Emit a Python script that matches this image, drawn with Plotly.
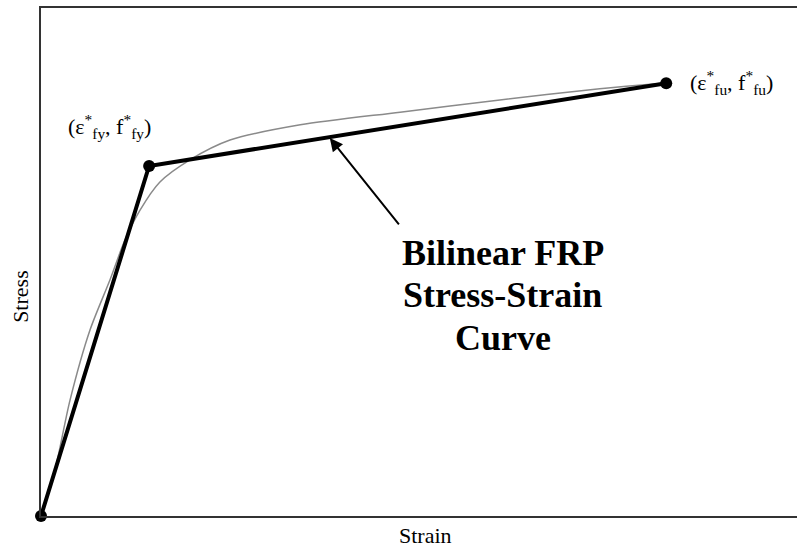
import plotly.graph_objects as go

# Data (normalized strain / stress units)
curve_strain = [0, 1.85, 3.84, 6.48, 9.13, 11.1, 13.1, 15.7, 19.7, 25.0, 34.3, 47.5, 60.7, 73.9, 80.6, 82.7]
curve_stress = [0, 9.06, 22.8, 36.6, 46.5, 54.3, 60.2, 65.7, 70.1, 74.0, 77.0, 79.5, 81.9, 84.1, 85.0, 85.2]

bilinear_strain = [0, 14.3, 82.7]
bilinear_stress = [0, 68.9, 85.2]

label_yield = "(ε<sup>*</sup><sub>fy</sub>, f<sup>*</sup><sub>fy</sub>)"
label_ult = "(ε<sup>*</sup><sub>fu</sub>, f<sup>*</sup><sub>fu</sub>)"
callout_lines = ["Bilinear FRP", "Stress-Strain", "Curve"]

FONT = "Liberation Serif, Times New Roman, serif"

fig = go.Figure()
fig.add_trace(go.Scatter(
    x=curve_strain, y=curve_stress, mode="lines",
    line=dict(color="#8a8a8a", width=1.5, shape="spline", smoothing=0.8),
    cliponaxis=False, hoverinfo="skip"))
fig.add_trace(go.Scatter(
    x=bilinear_strain, y=bilinear_stress, mode="lines+markers",
    line=dict(color="black", width=4),
    marker=dict(color="black", size=12),
    cliponaxis=False, hoverinfo="skip"))

annotations = []
for txt, yy in zip(callout_lines, [51.8, 43.5, 35.0]):
    annotations.append(dict(x=61.1, y=yy, xref="x", yref="y", text="<b>%s</b>" % txt,
                            showarrow=False, xanchor="center", yanchor="middle",
                            font=dict(family=FONT, size=36, color="black")))
annotations.append(dict(x=38.2, y=74.4, ax=47.5, ay=57.1, xref="x", yref="y",
                        axref="x", ayref="y", text="", showarrow=True,
                        arrowhead=2, arrowsize=1.3, arrowwidth=2, arrowcolor="black"))
annotations.append(dict(x=9.0, y=76.6, xref="x", yref="y", text=label_yield,
                        showarrow=False, xanchor="center", yanchor="middle",
                        font=dict(family=FONT, size=22, color="black")))
annotations.append(dict(x=91.4, y=85.4, xref="x", yref="y", text=label_ult,
                        showarrow=False, xanchor="center", yanchor="middle",
                        font=dict(family=FONT, size=22, color="black")))
annotations.append(dict(x=0.509, y=-0.039, xref="paper", yref="paper", text="Strain",
                        showarrow=False, xanchor="center", yanchor="middle",
                        font=dict(family=FONT, size=22, color="black")))
annotations.append(dict(x=-0.028, y=0.433, xref="paper", yref="paper", text="Stress",
                        showarrow=False, xanchor="center", yanchor="middle", textangle=-90,
                        font=dict(family=FONT, size=22, color="black")))

fig.update_layout(
    width=797, height=547,
    margin=dict(l=41, r=0, t=8, b=31),
    paper_bgcolor="white", plot_bgcolor="white",
    showlegend=False,
    annotations=annotations,
    xaxis=dict(range=[0, 100], showgrid=False, zeroline=False, showticklabels=False,
               ticks="", showline=True, linecolor="#333333", linewidth=2, mirror=True),
    yaxis=dict(range=[0, 100], showgrid=False, zeroline=False, showticklabels=False,
               ticks="", showline=True, linecolor="#333333", linewidth=2),
)

fig.write_html("out.html", config={"displayModeBar": False},
               post_script="document.body.style.margin='0';document.body.style.overflow='hidden';")
